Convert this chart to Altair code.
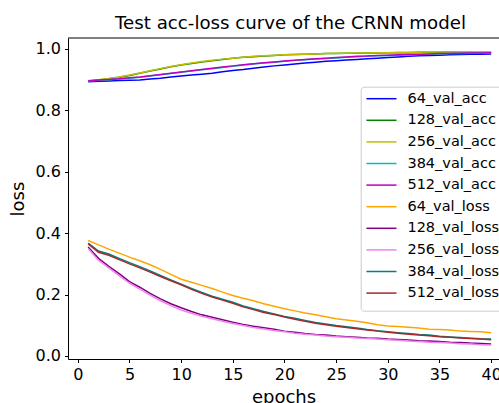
import altair as alt
import pandas as pd

epochs = list(range(1, 41))

acc_64 = [.893, .895, .896, .897, .898, .899, .902, .905, .909, .912,
          .915, .918, .921, .926, .930, .933, .937, .941, .945, .948,
          .951, .954, .957, .960, .962, .964, .966, .968, .970, .972,
          .974, .976, .978, .979, .980, .981, .982, .983, .983, .984]
acc_128 = [.896, .899, .903, .908, .914, .921, .928, .935, .942, .948,
           .953, .958, .962, .966, .970, .973, .975, .977, .979, .981,
           .982, .983, .984, .985, .985, .986, .986, .987, .987, .988,
           .988, .988, .989, .989, .989, .990, .990, .990, .990, .991]
acc_256 = [.897, .900, .904, .909, .915, .922, .929, .936, .943, .949,
           .954, .959, .963, .967, .970, .973, .976, .978, .980, .981,
           .982, .983, .984, .985, .986, .986, .987, .987, .988, .988,
           .989, .989, .989, .990, .990, .990, .991, .991, .991, .991]
acc_384 = [.896, .898, .900, .902, .905, .908, .912, .916, .920, .924,
           .928, .932, .936, .940, .944, .948, .951, .954, .957, .960,
           .963, .965, .967, .969, .971, .973, .975, .977, .978, .979,
           .980, .981, .982, .983, .984, .985, .985, .986, .987, .987]
acc_512 = [.896, .899, .901, .903, .906, .909, .913, .917, .921, .925,
           .929, .933, .937, .941, .945, .949, .952, .955, .958, .961,
           .963, .966, .968, .970, .972, .974, .976, .977, .979, .980,
           .981, .982, .983, .984, .985, .985, .986, .987, .987, .988]
loss_64 = [.376, .362, .348, .335, .322, .310, .297, .282, .266, .250,
           .240, .230, .220, .208, .197, .188, .180, .170, .162, .154,
           .147, .140, .134, .128, .121, .117, .113, .108, .102, .098,
           .096, .094, .091, .087, .086, .085, .081, .080, .079, .076]
loss_128 = [.355, .318, .292, .268, .242, .224, .204, .186, .170, .157,
            .145, .134, .126, .118, .110, .103, .097, .092, .087, .081,
            .077, .073, .070, .068, .065, .063, .061, .059, .058, .055,
            .054, .052, .050, .049, .047, .045, .044, .042, .041, .039]
loss_256 = [.350, .312, .287, .262, .237, .218, .198, .180, .164, .150,
            .139, .129, .121, .113, .106, .099, .093, .088, .083, .079,
            .074, .071, .068, .065, .063, .061, .059, .057, .055, .053,
            .051, .049, .047, .045, .044, .042, .040, .039, .037, .036]
loss_384 = [.368, .342, .332, .318, .304, .291, .277, .262, .248, .234,
            .220, .207, .195, .185, .175, .163, .154, .145, .137, .129,
            .123, .116, .109, .104, .099, .095, .091, .086, .082, .079,
            .076, .073, .070, .068, .064, .062, .060, .058, .056, .055]
loss_512 = [.365, .338, .328, .314, .300, .287, .273, .259, .245, .232,
            .217, .204, .192, .182, .172, .160, .151, .142, .135, .127,
            .120, .113, .107, .102, .097, .093, .089, .085, .081, .077,
            .074, .071, .068, .066, .063, .061, .059, .057, .055, .053]

series_names = ["64_val_acc", "128_val_acc", "256_val_acc", "384_val_acc", "512_val_acc",
                "64_val_loss", "128_val_loss", "256_val_loss", "384_val_loss", "512_val_loss"]
series_values = [acc_64, acc_128, acc_256, acc_384, acc_512,
                 loss_64, loss_128, loss_256, loss_384, loss_512]
series_colors = ["#0000ff", "#008000", "#bfbf00", "#00bfbf", "#bf00bf",
                 "#ffa500", "#800080", "#ee82ee", "#008080", "#a52a2a"]

x_ticks = [0, 5, 10, 15, 20, 25, 30, 35, 40]
y_ticks = [0.0, 0.2, 0.4, 0.6, 0.8, 1.0]

rows = []
for order, (name, vals) in enumerate(zip(series_names, series_values)):
    for e, v in zip(epochs, vals):
        rows.append({"epoch": e, "value": v, "series": name, "order": order})
df = pd.DataFrame(rows)

FONT = "DejaVu Sans"
W, H = 431, 321

lines = alt.Chart(df).mark_line(strokeWidth=1.5).encode(
    x=alt.X("epoch:Q",
            scale=alt.Scale(domain=[-0.95, 40.76], nice=False, zero=False),
            axis=alt.Axis(values=x_ticks, title="epochs", format="d")),
    y=alt.Y("value:Q",
            scale=alt.Scale(domain=[-0.0098, 1.0358], nice=False, zero=False),
            axis=alt.Axis(values=y_ticks, title="loss", format=".1f")),
    color=alt.Color("series:N",
                    scale=alt.Scale(domain=series_names, range=series_colors),
                    legend=alt.Legend(
                        orient="none", legendX=292.7, legendY=48.7,
                        title=" ", titleOrient="bottom", titleFontSize=4, titlePadding=3,
                        symbolType="M-0.9,0H3.4", symbolSize=196, symbolStrokeWidth=1.5,
                        labelFontSize=14.5, labelFont=FONT, labelColor="#000000",
                        labelOffset=26.7, padding=4, rowPadding=6.6,
                        strokeColor="#cccccc", fillColor="rgba(255,255,255,0.8)",
                        cornerRadius=3)),
    detail="series:N",
    order="order:Q",
)

top_border = alt.Chart(pd.DataFrame({"k": [0]})).mark_rule(
    color="#000000", strokeWidth=1).encode(
    x=alt.value(0), x2=alt.value(W), y=alt.value(0))

chart = alt.layer(lines, top_border).properties(
    width=W, height=H,
    autosize=alt.AutoSizeParams(type="none"),
    padding={"left": 68, "top": 38, "right": 0, "bottom": 44},
    title=alt.TitleParams("Test acc-loss curve of the CRNN model", fontSize=18.2,
                          font=FONT, fontWeight="normal", color="#000000",
                          anchor="middle", dx=7, dy=18, offset=8, baseline="alphabetic"),
).configure_view(strokeWidth=0).configure_axis(
    grid=False, domainColor="#000000", domainWidth=1, tickColor="#000000",
    tickSize=3.5, tickWidth=1, labelFontSize=16, labelFont=FONT, labelColor="#000000",
    titleFontSize=18, titleFont=FONT, titleFontWeight="normal", titleColor="#000000",
    labelPadding=4,
).configure_axisY(titlePadding=8).configure_axisX(titlePadding=5.5)

chart.save("out.html", embed_options={"renderer": "svg", "actions": False})
